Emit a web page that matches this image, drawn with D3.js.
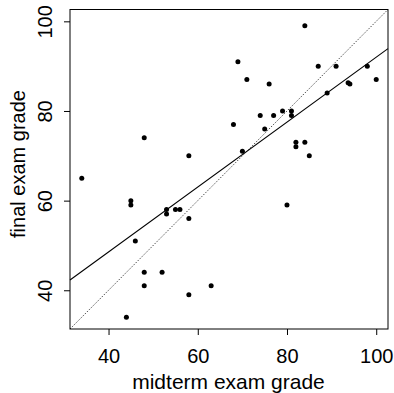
<!DOCTYPE html>
<html>
<head>
<meta charset="utf-8">
<script src="https://cdn.jsdelivr.net/npm/d3@7"></script>
<style>
  body { margin: 0; background: #fff; }
  svg { display: block; font-family: "Liberation Sans", Arial, sans-serif; }
</style>
</head>
<body>
<script>
// prettier-ignore
const midterm = [34, 58, 45, 45, 53, 53, 55, 56, 58, 46, 48, 52, 48, 58, 44, 69, 71, 76, 68, 74, 77,
  79, 81, 81, 75, 70, 82, 82, 84, 87, 91, 98, 93.7, 94.1, 100, 89, 84, 85, 80, 63, 48];
// prettier-ignore
const final = [65, 70, 60, 59, 58, 57, 58, 58, 56, 51, 44, 44, 41, 39, 34, 91, 87, 86, 77, 79, 79,
  80, 80, 79, 76, 71, 73, 72, 99, 90, 90, 90, 86.3, 86, 87, 84, 73, 70, 59, 41, 74];
const ticks = [40, 60, 80, 100];
// least squares fit
const fitIntercept = 19.6;
const fitSlope = 0.724;

const width = 394;
const height = 393;
const margin = { top: 9.5, right: 6, bottom: 64, left: 70 };

const lo = 34;
const hi = 100;
const pad = (hi - lo) * 0.04;
const domain = [lo - pad, hi + pad];

const xScale = d3.scaleLinear().domain(domain).range([margin.left, width - margin.right]);
const yScale = d3.scaleLinear().domain(domain).range([height - margin.bottom, margin.top]);

const svg = d3
  .select("body")
  .append("svg")
  .attr("width", width)
  .attr("height", height);

const xAxis = d3.axisBottom(xScale).tickValues(ticks).tickSize(6).tickPadding(14);
const yAxis = d3.axisLeft(yScale).tickValues(ticks).tickSize(6).tickPadding(4);

const gx = svg
  .append("g")
  .attr("transform", `translate(0 ${height - margin.bottom})`)
  .call(xAxis);
gx.select(".domain").remove();
gx.selectAll("text").attr("font-size", 20).attr("fill", "#000").attr("font-family", null);
gx.selectAll("line").attr("stroke", "#000");

const gy = svg
  .append("g")
  .attr("transform", `translate(${margin.left} 0)`)
  .call(yAxis);
gy.select(".domain").remove();
gy.selectAll("line").attr("stroke", "#000");
gy.selectAll("text")
  .attr("font-size", 20)
  .attr("fill", "#000")
  .attr("font-family", null)
  .attr("x", null)
  .attr("dy", null)
  .attr("text-anchor", "middle")
  .attr("transform", "translate(-18 0) rotate(-90)");

// plot box
svg
  .append("rect")
  .attr("x", xScale.range()[0])
  .attr("y", yScale.range()[1])
  .attr("width", xScale.range()[1] - xScale.range()[0])
  .attr("height", yScale.range()[0] - yScale.range()[1])
  .attr("fill", "none")
  .attr("stroke", "#000");

const plot = svg.append("g");

// identity line
plot
  .append("line")
  .attr("x1", xScale(domain[0]))
  .attr("y1", yScale(domain[0]))
  .attr("x2", xScale(domain[1]))
  .attr("y2", yScale(domain[1]))
  .attr("stroke", "#000")
  .attr("stroke-width", 0.7)
  .attr("stroke-dasharray", "1.5,1.5");

// fitted line
plot
  .append("line")
  .attr("x1", xScale(domain[0]))
  .attr("y1", yScale(fitIntercept + fitSlope * domain[0]))
  .attr("x2", xScale(domain[1]))
  .attr("y2", yScale(fitIntercept + fitSlope * domain[1]))
  .attr("stroke", "#000")
  .attr("stroke-width", 1.1);

plot
  .selectAll("circle")
  .data(d3.zip(midterm, final))
  .join("circle")
  .attr("cx", (d) => xScale(d[0]))
  .attr("cy", (d) => yScale(d[1]))
  .attr("r", 2.5)
  .attr("fill", "#000");

svg
  .append("text")
  .attr("x", 228.5)
  .attr("y", 389)
  .attr("text-anchor", "middle")
  .attr("font-size", 21)
  .text("midterm exam grade");

svg
  .append("text")
  .attr("transform", "translate(25 164) rotate(-90)")
  .attr("text-anchor", "middle")
  .attr("font-size", 20)
  .text("final exam grade");
</script>
</body>
</html>
